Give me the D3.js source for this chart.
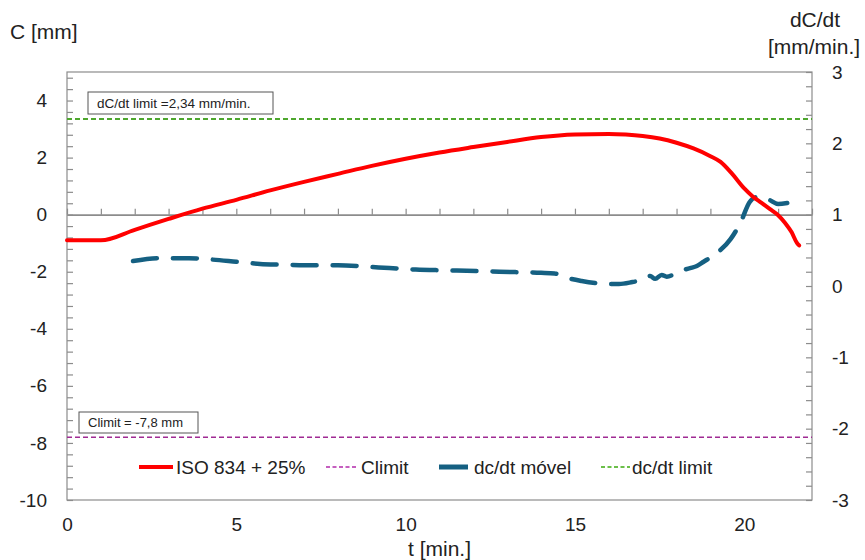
<!DOCTYPE html>
<html>
<head>
<meta charset="utf-8">
<script src="https://cdn.jsdelivr.net/npm/d3@7"></script>
<style>
  html, body { margin: 0; padding: 0; background: #fff; }
  svg { display: block; font-family: "Liberation Sans", Arial, sans-serif; }
</style>
</head>
<body>
<svg id="chart" width="865" height="560"></svg>
<script>
// Time [min.] and char depth C [mm] for the ISO 834 + 25% curve
const isoT = [0, 1, 2, 3, 4, 5, 6, 7, 8, 9, 10, 11, 12, 13, 14, 15, 16, 16.5, 17, 17.5, 18, 18.5, 19, 19.3, 19.65, 20, 20.25, 20.5, 20.75, 21, 21.2, 21.4, 21.55, 21.62];
const isoC = [-0.9, -0.9, -0.53, -0.15, 0.21, 0.52, 0.85, 1.15, 1.43, 1.71, 1.96, 2.18, 2.37, 2.55, 2.72, 2.81, 2.83, 2.81, 2.76, 2.67, 2.52, 2.32, 2.05, 1.85, 1.42, 0.92, 0.64, 0.42, 0.2, -0.02, -0.28, -0.62, -0.98, -1.08];

// Moving rate dC/dt [mm/min.] (right axis)
const rateT = [1.95, 2.75, 3.6, 4.3, 5.0, 5.7, 6.3, 7.4, 8.0, 8.6, 9.2, 9.8, 10.3, 11.2, 12.1, 13.2, 14.0, 14.4, 14.8, 15.2, 15.6, 16.0, 16.3, 16.7, 17.07, 17.22, 17.37, 17.56, 17.71, 18.1, 18.4, 18.6, 18.8, 19.15, 19.6, 19.9, 20.15, 20.35, 20.55, 20.75, 21.0, 21.27];
const rateV = [0.35, 0.39, 0.39, 0.37, 0.34, 0.31, 0.30, 0.29, 0.29, 0.28, 0.26, 0.245, 0.23, 0.22, 0.21, 0.195, 0.185, 0.175, 0.11, 0.07, 0.042, 0.028, 0.028, 0.056, 0.094, 0.14, 0.10, 0.155, 0.13, 0.21, 0.25, 0.28, 0.34, 0.448, 0.66, 0.9, 1.17, 1.245, 1.25, 1.205, 1.15, 1.163];

// Limits
const cLimit = -7.8;       // mm
const rateLimit = 2.34;    // mm/min.

// Axis ticks
const xTicks = [0, 5, 10, 15, 20];
const yLeftTicks = [-10, -8, -6, -4, -2, 0, 2, 4];
const yRightTicks = [-3, -2, -1, 0, 1, 2, 3];

// Legend entries
const legendLabels = ["ISO 834 + 25%", "Climit", "dc/dt móvel", "dc/dt limit"];

const colors = { iso: "#ff0000", climit: "#a02b93", rate: "#156082", rateLimit: "#4ea72e", axis: "#8c8c8c", text: "#222" };
const plain = d => String(d);   // hyphen-minus, no trailing decimals

const svg = d3.select("#chart");
const plot = { left: 67, right: 812, top: 72, bottom: 500 };

const x = d3.scaleLinear().domain([0, 22]).range([plot.left, plot.right]);
const yL = d3.scaleLinear().domain([-10, 5]).range([plot.bottom, plot.top]);
const yR = d3.scaleLinear().domain([-3, 3]).range([plot.bottom, plot.top]);

// Plot area frame
svg.append("rect")
  .attr("x", plot.left).attr("y", plot.top)
  .attr("width", plot.right - plot.left).attr("height", plot.bottom - plot.top)
  .attr("fill", "none").attr("stroke", colors.axis).attr("stroke-width", 1.2);

// Left axis: inner minor ticks
const leftMinor = d3.range(-10, 5.001, 0.4).map(v => +v.toFixed(2));
const gLm = svg.append("g").attr("transform", `translate(${plot.left},0)`)
  .call(d3.axisRight(yL).tickValues(leftMinor).tickSize(6).tickFormat(""));
gLm.select(".domain").remove();
gLm.selectAll("line").attr("stroke", colors.axis).attr("stroke-width", 1.2);

const gL = svg.append("g").attr("transform", `translate(${plot.left},0)`)
  .call(d3.axisLeft(yL).tickValues(yLeftTicks).tickFormat(plain).tickSize(0).tickPadding(20));
gL.select(".domain").remove();
gL.selectAll("text").attr("font-size", 19).attr("fill", colors.text)
  .attr("font-family", "'Liberation Sans', Arial, sans-serif");

// Right axis: inner minor ticks
const rightMinor = d3.range(-3, 3.001, 0.2).map(v => +v.toFixed(2));
const gRm = svg.append("g").attr("transform", `translate(${plot.right},0)`)
  .call(d3.axisLeft(yR).tickValues(rightMinor).tickSize(6).tickFormat(""));
gRm.select(".domain").remove();
gRm.selectAll("line").attr("stroke", colors.axis).attr("stroke-width", 1.2);

const gR = svg.append("g").attr("transform", `translate(${plot.right},0)`)
  .call(d3.axisRight(yR).tickValues(yRightTicks).tickFormat(plain).tickSize(0).tickPadding(20));
gR.select(".domain").remove();
gR.selectAll("text").attr("font-size", 19).attr("fill", colors.text)
  .attr("font-family", "'Liberation Sans', Arial, sans-serif");

// Horizontal time axis crossing at C = 0, ticks every minute
const gX0 = svg.append("g").attr("transform", `translate(0,${yL(0)})`)
  .call(d3.axisTop(x).tickValues(d3.range(0, 23, 1)).tickSize(6).tickFormat("").tickSizeOuter(0));
gX0.select(".domain").attr("stroke", colors.axis).attr("stroke-width", 1.6);
gX0.selectAll("line").attr("stroke", colors.axis).attr("stroke-width", 1.2);

// Time labels along the bottom
const gX = svg.append("g").attr("transform", `translate(0,${plot.bottom})`)
  .call(d3.axisBottom(x).tickValues(xTicks).tickFormat(plain).tickSize(0).tickPadding(18));
gX.select(".domain").remove();
gX.selectAll("text").attr("font-size", 19).attr("fill", colors.text)
  .attr("font-family", "'Liberation Sans', Arial, sans-serif");

// Axis titles
svg.append("text").attr("x", 10).attr("y", 39).attr("font-size", 21).attr("fill", colors.text).text("C [mm]");
svg.append("text").attr("x", 815).attr("y", 27).attr("text-anchor", "middle").attr("font-size", 21).attr("fill", colors.text).text("dC/dt");
svg.append("text").attr("x", 814).attr("y", 54).attr("text-anchor", "middle").attr("font-size", 21).attr("fill", colors.text).text("[mm/min.]");
svg.append("text").attr("x", (plot.left + plot.right) / 2).attr("y", 556).attr("text-anchor", "middle").attr("font-size", 21).attr("fill", colors.text).text("t [min.]");

// Limit lines
svg.append("line")
  .attr("x1", plot.left).attr("x2", plot.right)
  .attr("y1", yR(rateLimit)).attr("y2", yR(rateLimit))
  .attr("stroke", colors.rateLimit).attr("stroke-width", 2).attr("stroke-dasharray", "5,3");
svg.append("line")
  .attr("x1", plot.left).attr("x2", plot.right)
  .attr("y1", yL(cLimit)).attr("y2", yL(cLimit))
  .attr("stroke", colors.climit).attr("stroke-width", 1.6).attr("stroke-dasharray", "5,3");

// Limit annotations
function note(x0, y0, w, h, label, fs) {
  svg.append("rect").attr("x", x0).attr("y", y0).attr("width", w).attr("height", h)
    .attr("fill", "#fff").attr("stroke", "#555").attr("stroke-width", 1);
  svg.append("text").attr("x", x0 + 9).attr("y", y0 + h / 2).attr("dy", "0.35em")
    .attr("font-size", fs).attr("fill", colors.text).text(label);
}
note(88, 92, 185, 22, `dC/dt limit =${String(rateLimit).replace(".", ",")} mm/min.`, 13.5);
note(79, 412, 119, 21, `Climit = ${String(cLimit).replace(".", ",")} mm`, 13);

// Moving rate series (right axis)
const rateData = rateT.map((t, i) => [t, rateV[i]]);
svg.append("path").datum(rateData)
  .attr("fill", "none").attr("stroke", colors.rate).attr("stroke-width", 4.5)
  .attr("stroke-linecap", "round").attr("stroke-linejoin", "round")
  .attr("stroke-dasharray", "24,16")
  .attr("d", d3.line().x(d => x(d[0])).y(d => yR(d[1])).curve(d3.curveMonotoneX));

// ISO 834 + 25% series (left axis)
const isoData = isoT.map((t, i) => [t, isoC[i]]);
svg.append("path").datum(isoData)
  .attr("fill", "none").attr("stroke", colors.iso).attr("stroke-width", 4)
  .attr("stroke-linejoin", "round").attr("stroke-linecap", "round")
  .attr("d", d3.line().x(d => x(d[0])).y(d => yL(d[1])).curve(d3.curveMonotoneX));

// Legend
const legendY = 467;
const legendItems = [
  { label: legendLabels[0], x1: 139, x2: 173, tx: 176, color: colors.iso, width: 4, dash: null },
  { label: legendLabels[1], x1: 326, x2: 358, tx: 361, color: "#c55fbf", width: 2, dash: "4,2.5" },
  { label: legendLabels[2], x1: 439, x2: 468, tx: 474, color: colors.rate, width: 5, dash: null },
  { label: legendLabels[3], x1: 601, x2: 630, tx: 632, color: "#6cbf4a", width: 2, dash: "4,2.5" }
];
const lg = svg.append("g");
legendItems.forEach(d => {
  lg.append("line").attr("x1", d.x1).attr("x2", d.x2).attr("y1", legendY).attr("y2", legendY)
    .attr("stroke", d.color).attr("stroke-width", d.width)
    .attr("stroke-dasharray", d.dash);
  lg.append("text").attr("x", d.tx).attr("y", legendY).attr("dy", "0.36em")
    .attr("font-size", 19).attr("fill", colors.text).text(d.label);
});
</script>
</body>
</html>
